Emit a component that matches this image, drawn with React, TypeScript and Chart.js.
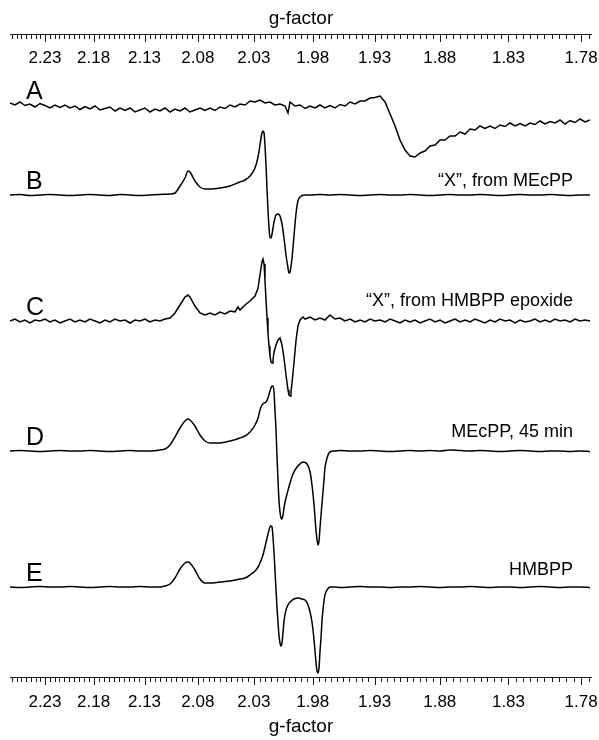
import React, { useEffect, useRef } from "react";
import { Chart, registerables } from "chart.js";

Chart.register(...registerables);

const FONT = '"Liberation Sans", Arial, Helvetica, sans-serif';
// horizontal position is proportional to magnetic field, i.e. to 1/g
const FIELD_K = 1000;

const G_AXIS_MAX = 2.2674;
const G_AXIS_MIN = 1.7727;
const G_TICK_LABELS = [2.23, 2.18, 2.13, 2.08, 2.03, 1.98, 1.93, 1.88, 1.83, 1.78];

const TRACE_NAMES = ["A", "B", "C", "D", "E"];
const TRACE_LABELS = [
  "",
  "\u201CX\u201D, from MEcPP",
  "\u201CX\u201D, from HMBPP epoxide",
  "MEcPP, 45 min",
  "HMBPP",
];
// vertical offsets of each spectrum (a.u.)
const TRACE_OFFSETS = [635, 545, 419, 289, 153];
// noisy spectra are drawn point-to-point, clean ones smoothed
const TRACE_SMOOTH = [false, true, false, true, true];

// [g, signal] pairs, signal in a.u. relative to trace baseline
const TRACE_A: [number, number][] = [
  [2.2674, 2], [2.262, 0], [2.2566, 3], [2.2513, -0.5], [2.2459, 1], [2.2406, -2], [2.2353, 1.5], [2.23, -0.5],
  [2.2248, -3], [2.2196, 0], [2.2143, -2.5], [2.2092, 0], [2.204, -3], [2.1989, -1], [2.1938, -4.5], [2.1887, -1.5],
  [2.1837, -4], [2.1786, -1], [2.1736, -5], [2.1686, -3.5], [2.1637, -2], [2.1587, -6], [2.1538, -3], [2.1489, -5.5],
  [2.144, -3], [2.1392, -7], [2.1344, -5], [2.1296, -3], [2.1248, -7], [2.12, -4], [2.1153, -6], [2.1106, -3],
  [2.1058, -7], [2.1012, -4], [2.0965, -6], [2.0919, -3], [2.0873, -7], [2.0827, -5], [2.0781, -3], [2.0735, -5.5],
  [2.069, -3], [2.0645, -5.5], [2.06, -2], [2.0555, -3.5], [2.051, 0], [2.0466, -2], [2.0422, 1], [2.0378, 0],
  [2.0334, 4], [2.029, 3], [2.0247, 5], [2.0204, 2], [2.0161, 3], [2.0118, 0], [2.0075, 1], [2.0032, -1],
  [2.0007, -8], [1.999, 3], [1.9948, -1], [1.9906, 0], [1.9864, -3.5], [1.9822, -1], [1.9781, -3], [1.974, 0],
  [1.9699, -3], [1.9658, -0.5], [1.9617, -3], [1.9576, 0.5], [1.9536, -1], [1.9495, 3], [1.9455, 1], [1.9415, 4],
  [1.9376, 4], [1.9336, 7], [1.9297, 7.5], [1.9257, 9], [1.9218, 3], [1.9179, -9], [1.914, -21], [1.9102, -35],
  [1.9063, -45], [1.9025, -51], [1.8987, -52], [1.8948, -48], [1.8911, -46], [1.8873, -41], [1.8835, -40], [1.8798, -35],
  [1.8761, -35], [1.8723, -31], [1.8686, -31], [1.865, -27], [1.8613, -29], [1.8576, -24], [1.854, -25], [1.8504, -21],
  [1.8468, -23.5], [1.8431, -21], [1.8396, -23.5], [1.836, -20], [1.8324, -21.5], [1.8289, -18], [1.8254, -21], [1.8218, -18.5],
  [1.8183, -21], [1.8148, -18], [1.8114, -19.5], [1.8079, -16], [1.8045, -19], [1.801, -16.5], [1.7976, -18], [1.7942, -15],
  [1.7908, -19], [1.7874, -15.5], [1.784, -17.5], [1.7807, -14], [1.7773, -17], [1.774, -15],
];

const TRACE_B: [number, number][] = [
  [2.2674, 0], [2.2566, 0.5], [2.2459, -0.5], [2.2353, 0], [2.2248, 0.5], [2.2143, 0], [2.204, -0.5], [2.1938, 0],
  [2.1837, 0.5], [2.1736, 0], [2.1637, -0.5], [2.1538, 0.5], [2.144, 0], [2.1344, -0.5], [2.1248, 0], [2.1153, 0.5],
  [2.1058, 1], [2.1012, 2], [2.0965, 9], [2.0919, 17], [2.0891, 24], [2.0873, 23], [2.0827, 14], [2.0781, 8],
  [2.0735, 6], [2.069, 6], [2.06, 7], [2.051, 9], [2.0422, 13], [2.0378, 15], [2.0334, 19], [2.029, 27],
  [2.0264, 38], [2.0247, 50], [2.023, 62], [2.0221, 64], [2.0212, 62], [2.0204, 50], [2.0195, 30], [2.0186, 5],
  [2.0178, -15], [2.0169, -33], [2.0161, -42], [2.0152, -43], [2.0143, -39], [2.0126, -27], [2.0109, -20], [2.0092, -19],
  [2.0075, -21], [2.0058, -29], [2.0041, -43], [2.0024, -60], [2.0007, -73], [1.9999, -78], [1.999, -77], [1.9973, -63],
  [1.9956, -40], [1.9939, -18], [1.9923, -6], [1.9906, -2], [1.9864, 0], [1.9822, 0], [1.974, 0.5], [1.9658, 0],
  [1.9576, 0.5], [1.9495, 0], [1.9415, -0.5], [1.9336, 0], [1.9257, 0.5], [1.9179, 0], [1.9102, 0], [1.9025, 0.5],
  [1.8948, 0], [1.8873, -0.5], [1.8798, 0], [1.8723, 0.5], [1.865, 0], [1.8576, 0], [1.8504, 0.5], [1.8431, 0],
  [1.836, -0.5], [1.8289, 0], [1.8218, 0.5], [1.8148, 0], [1.8079, 0], [1.801, 0.5], [1.7942, 0], [1.7874, -0.5],
  [1.7807, 0], [1.774, 0],
];

const TRACE_C: [number, number][] = [
  [2.2674, 0], [2.262, 2], [2.2566, -1], [2.2513, 1], [2.2459, -2], [2.2406, 1], [2.2353, 0], [2.23, 2],
  [2.2248, -1], [2.2196, 1], [2.2143, -2], [2.2092, 0], [2.204, 2], [2.1989, -1], [2.1938, 1], [2.1887, -1],
  [2.1837, 2], [2.1786, 0], [2.1736, -2], [2.1686, 1], [2.1637, -1], [2.1587, 2], [2.1538, 0], [2.1489, 1],
  [2.144, -2], [2.1392, 1], [2.1344, 0], [2.1296, 2], [2.1248, -1], [2.12, 1], [2.1153, 0], [2.1106, 2],
  [2.1058, 3], [2.1012, 8], [2.0965, 16], [2.0919, 24], [2.0891, 26], [2.0873, 24], [2.0827, 15], [2.0781, 8],
  [2.0735, 6], [2.069, 8], [2.0645, 6], [2.06, 9], [2.0555, 7], [2.051, 10], [2.0466, 9], [2.044, 14],
  [2.0422, 11], [2.0378, 16], [2.0334, 20], [2.029, 25], [2.0264, 33], [2.0247, 46], [2.023, 59], [2.0221, 62],
  [2.0212, 57], [2.0204, 41], [2.0195, 21], [2.0186, 3], [2.0178, -12], [2.0169, -25], [2.0161, -35], [2.0152, -41],
  [2.0143, -42], [2.0135, -39], [2.0126, -31], [2.0109, -24], [2.0092, -19], [2.0075, -17], [2.0058, -24], [2.0041, -37],
  [2.0024, -54], [2.0007, -69], [1.9999, -74], [1.999, -75], [1.9982, -71], [1.9973, -62], [1.9956, -41], [1.9939, -19],
  [1.9923, -5], [1.9906, 1], [1.9881, 4], [1.9864, 2], [1.9822, 4], [1.9781, 1], [1.974, 3], [1.9699, 1],
  [1.9658, 6], [1.9617, 2], [1.9576, 3], [1.9536, 0], [1.9495, 2], [1.9455, -1], [1.9415, 1], [1.9376, -1],
  [1.9336, 2], [1.9297, 0], [1.9257, 1], [1.9218, -1], [1.9179, 2], [1.914, 0], [1.9102, -2], [1.9063, 1],
  [1.9025, -1], [1.8987, 1], [1.8948, -2], [1.8911, 0], [1.8873, 2], [1.8835, -1], [1.8798, 1], [1.8761, -2],
  [1.8723, 0], [1.8686, 2], [1.865, -1], [1.8613, 1], [1.8576, -1], [1.854, 2], [1.8504, 0], [1.8468, -2],
  [1.8431, 1], [1.8396, -1], [1.836, 2], [1.8324, 0], [1.8289, 1], [1.8254, -2], [1.8218, 1], [1.8183, -1],
  [1.8148, 0], [1.8114, 2], [1.8079, -1], [1.8045, 1], [1.801, -1], [1.7976, 2], [1.7942, 0], [1.7908, 1],
  [1.7874, -1], [1.784, 2], [1.7807, 0], [1.7773, 1], [1.774, 0],
];

const TRACE_D: [number, number][] = [
  [2.2674, 0], [2.2566, 0.5], [2.2459, 0], [2.2353, -0.5], [2.2248, 0], [2.2143, 0.5], [2.204, 0], [2.1938, 0],
  [2.1837, 0.5], [2.1736, 0], [2.1637, -0.5], [2.1538, 0], [2.144, 0.5], [2.1344, 0], [2.1248, 0], [2.1153, 1],
  [2.1106, 2], [2.1058, 6], [2.1012, 14], [2.0965, 23], [2.0919, 30], [2.0891, 32], [2.0873, 31], [2.0827, 25],
  [2.0781, 16], [2.0735, 10], [2.069, 8], [2.06, 8], [2.051, 10], [2.0422, 13], [2.0378, 15], [2.0334, 19],
  [2.029, 26], [2.0264, 33], [2.0247, 41], [2.023, 46], [2.0212, 48], [2.0195, 49], [2.0178, 53], [2.0161, 60],
  [2.0143, 65], [2.0135, 65], [2.0126, 59], [2.0118, 41], [2.0109, 21], [2.0101, -4], [2.0092, -29], [2.0084, -49],
  [2.0075, -61], [2.0066, -67], [2.0058, -68], [2.0049, -64], [2.0041, -57], [2.0032, -51], [2.0015, -43], [1.999, -32],
  [1.9965, -23], [1.9931, -16], [1.9906, -13], [1.9881, -11], [1.9847, -13], [1.9822, -21], [1.9806, -34], [1.9789, -54],
  [1.9773, -79], [1.9764, -89], [1.9756, -94], [1.9748, -90], [1.974, -77], [1.9723, -52], [1.9707, -29], [1.9699, -17],
  [1.9682, -7], [1.9658, -1], [1.9617, 0], [1.9576, 0.5], [1.9495, 0], [1.9415, 0], [1.9336, 0.5], [1.9257, 0],
  [1.9179, -0.5], [1.9102, 0], [1.9025, 0.5], [1.8948, 0], [1.8873, 0.5], [1.8798, 0], [1.8723, 1], [1.865, 0.5],
  [1.8576, 0], [1.8504, 0.5], [1.8431, 0], [1.836, -0.5], [1.8289, 0], [1.8218, 0.5], [1.8148, 0], [1.8079, -0.5],
  [1.801, 0], [1.7942, 0], [1.7874, -0.5], [1.7807, 0], [1.774, -0.5],
];

const TRACE_E: [number, number][] = [
  [2.2674, 0], [2.2566, -0.5], [2.2459, 0], [2.2353, 0.5], [2.2248, 0], [2.2143, 0], [2.204, 0.5], [2.1938, 0],
  [2.1837, -0.5], [2.1736, 0], [2.1637, 0.5], [2.1538, 0], [2.144, 0], [2.1344, 0.5], [2.1248, 0], [2.1153, 0],
  [2.1106, 1], [2.1058, 3], [2.1012, 9], [2.0965, 18], [2.0919, 24], [2.0891, 25], [2.0873, 24], [2.0827, 17],
  [2.0781, 8], [2.0735, 4], [2.069, 4], [2.06, 5], [2.051, 6], [2.0422, 8], [2.0378, 9], [2.0334, 12],
  [2.029, 16], [2.0264, 20], [2.0247, 24], [2.0221, 32], [2.0204, 40], [2.0186, 49], [2.0169, 57], [2.0161, 60],
  [2.0152, 61], [2.0143, 60], [2.0135, 50], [2.0126, 34], [2.0118, 17], [2.0109, -3], [2.0101, -20], [2.0092, -35],
  [2.0084, -48], [2.0075, -56], [2.0066, -59], [2.0058, -56], [2.0049, -45], [2.0041, -34], [2.0024, -23], [2.0007, -18],
  [1.999, -15], [1.9956, -12], [1.9923, -11], [1.9889, -12], [1.9856, -14], [1.9839, -18], [1.9822, -25], [1.9806, -35],
  [1.9789, -53], [1.9773, -75], [1.9764, -84], [1.9756, -86], [1.9748, -81], [1.974, -65], [1.9731, -50], [1.9723, -33],
  [1.9707, -14], [1.9699, -8], [1.9682, -3], [1.9658, 0], [1.9617, 0], [1.9576, -0.5], [1.9495, 0], [1.9415, 0.5],
  [1.9336, 0], [1.9257, 0], [1.9179, -0.5], [1.9102, 0], [1.9025, 0], [1.8948, 0.5], [1.8873, 0], [1.8798, -0.5],
  [1.8723, 0], [1.865, 0], [1.8576, 0.5], [1.8504, 0], [1.8431, -0.5], [1.836, 0], [1.8289, 0], [1.8218, -0.5],
  [1.8148, 0], [1.8079, 0.5], [1.801, 0], [1.7942, -0.5], [1.7874, 0], [1.7807, 0], [1.774, -0.5],
];

const TRACES = [TRACE_A, TRACE_B, TRACE_C, TRACE_D, TRACE_E];

const axisPlugin = {
  id: "eprAxes",
  afterDraw(chart: any) {
    const { ctx, chartArea } = chart;
    const xs = chart.scales.x;
    const ys = chart.scales.y;
    ctx.save();
    ctx.strokeStyle = "#1a1a1a";
    ctx.lineWidth = 1;
    const axisYs = [34, 677];
    const kMin = Math.ceil(G_AXIS_MIN * 200 - 1e-6);
    const kMax = Math.floor(G_AXIS_MAX * 200 + 1e-6);
    for (const ay of axisYs) {
      ctx.beginPath();
      ctx.moveTo(xs.left, ay + 0.5);
      ctx.lineTo(xs.right, ay + 0.5);
      ctx.stroke();
      ctx.beginPath();
      for (let k = kMin; k <= kMax; k++) {
        const g = k / 200;
        const major = G_TICK_LABELS.some((t) => Math.abs(t - g) < 1e-6);
        const px = Math.round(xs.getPixelForValue(FIELD_K / g)) + 0.5;
        ctx.moveTo(px, ay);
        ctx.lineTo(px, ay + (major ? 8 : 5));
      }
      ctx.stroke();
    }
    // trace letters and captions
    ctx.fillStyle = "#000";
    TRACE_NAMES.forEach((name, i) => {
      const base = ys.getPixelForValue(TRACE_OFFSETS[i]);
      ctx.font = `25px ${FONT}`;
      ctx.textAlign = "left";
      ctx.textBaseline = "alphabetic";
      ctx.fillText(name, chartArea.left + 16, base - 6);
      if (TRACE_LABELS[i]) {
        const capDy = [0, 9, 15, 14, 12][i];
        ctx.font = `18px ${FONT}`;
        ctx.textAlign = "right";
        ctx.fillText(TRACE_LABELS[i], xs.getPixelForValue(FIELD_K / 1.7854), base - capDy);
      }
    });
    ctx.restore();
  },
};

export default function App() {
  const ref = useRef<HTMLCanvasElement>(null);
  useEffect(() => {
    const datasets = TRACES.map((tr, i) => ({
      label: TRACE_NAMES[i],
      data: tr.map(([g, v]) => ({ x: FIELD_K / g, y: TRACE_OFFSETS[i] + v })),
      borderColor: "#000",
      borderWidth: 1.5,
      pointRadius: 0,
      tension: 0,
      cubicInterpolationMode: TRACE_SMOOTH[i] ? "monotone" : "default",
      fill: false,
    }));
    const tickCallback = (v: any) => (FIELD_K / Number(v)).toFixed(2);
    const setTicks = (s: any) => {
      s.ticks = G_TICK_LABELS.map((g) => ({ value: FIELD_K / g }));
    };
    const chart = new Chart(ref.current as HTMLCanvasElement, {
      type: "line",
      data: { datasets },
      plugins: [axisPlugin],
      options: {
        animation: false,
        responsive: false,
        devicePixelRatio: 1,
        layout: { padding: { left: 10, right: 7, top: 0, bottom: 0 } },
        plugins: { legend: { display: false }, tooltip: { enabled: false }, title: { display: false } },
        scales: {
          x: {
            type: "linear",
            position: "bottom",
            min: FIELD_K / G_AXIS_MAX,
            max: FIELD_K / G_AXIS_MIN,
            afterBuildTicks: setTicks,
            grid: { display: false, drawTicks: false },
            border: { display: false },
            ticks: {
              callback: tickCallback,
              autoSkip: false,
              maxRotation: 0,
              minRotation: 0,
              padding: 0,
              color: "#000",
              font: { family: FONT, size: 17, lineHeight: 1.6 },
            },
            title: {
              display: true,
              text: "g-factor",
              color: "#000",
              font: { family: FONT, size: 19 },
              padding: { top: 0, bottom: 1.6 },
            },
          },
          x2: {
            type: "linear",
            position: "top",
            min: FIELD_K / G_AXIS_MAX,
            max: FIELD_K / G_AXIS_MIN,
            afterBuildTicks: setTicks,
            grid: { display: false, drawTicks: false },
            border: { display: false },
            ticks: {
              callback: tickCallback,
              autoSkip: false,
              maxRotation: 0,
              minRotation: 0,
              padding: 0,
              color: "#000",
              font: { family: FONT, size: 17 },
            },
            title: {
              display: true,
              text: "g-factor",
              color: "#000",
              font: { family: FONT, size: 19 },
              padding: { top: 7.6, bottom: 17.4 },
            },
          },
          y: { display: false, min: 51.6, max: 671.8 },
        },
      } as any,
    });
    return () => chart.destroy();
  }, []);
  return (
    <div style={{ position: "fixed", left: 0, top: 0, width: 599, height: 740, background: "#fff" }}>
      <canvas ref={ref} width={599} height={740} style={{ display: "block" }} />
    </div>
  );
}
